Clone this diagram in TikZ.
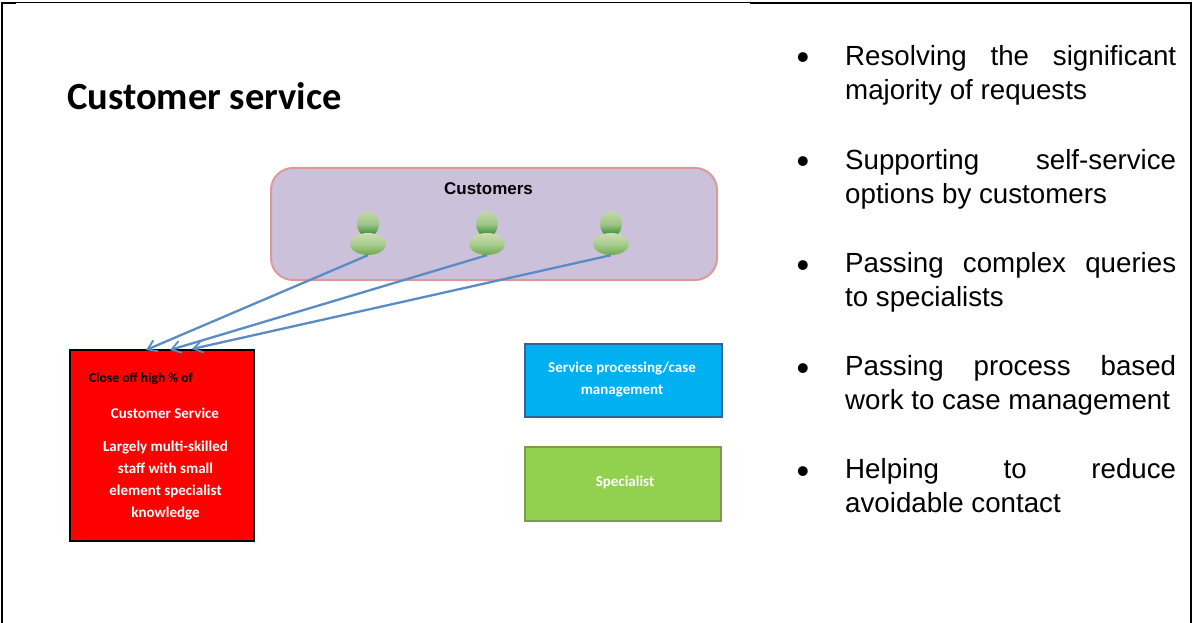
\documentclass[tikz,border=0pt]{standalone}
\usepackage{fontspec}
\setmainfont{Liberation Sans}
\newfontfamily\calfont{Carlito}
\definecolor{custfill}{HTML}{CCC1DA}
\definecolor{custline}{HTML}{DB9A98}
\definecolor{arrowblue}{HTML}{5B8BC4}
\definecolor{bluefill}{HTML}{00B0F0}
\definecolor{blueline}{HTML}{35619A}
\definecolor{greenfill}{HTML}{92D050}
\definecolor{greenline}{HTML}{7F9A48}
\definecolor{headtop}{HTML}{C3D9A8}
\definecolor{headmid}{HTML}{9FC688}
\definecolor{headbot}{HTML}{1F7F1F}
\definecolor{bodytop}{HTML}{CBDDB3}
\definecolor{bodymid}{HTML}{A9CC8E}
\definecolor{bodybot}{HTML}{6FAB4E}
\usetikzlibrary{arrows.meta,shapes.geometric}
\hyphenpenalty=10000
\exhyphenpenalty=10000
\tolerance=10000
\tikzset{
  x=1pt,y=-1pt,
  smalltext/.style={font=\calfont\fontsize{13.6}{16}\selectfont\bfseries,inner sep=0pt,align=center},
  smallwhite/.style={inner sep=0pt,align=center,text=white,font=\calfont\fontsize{15}{22}\selectfont\bfseries},
  personhead/.style={ellipse,minimum width=22pt,minimum height=26pt,inner sep=0pt,top color=headtop,bottom color=headbot,middle color=headmid},
  personbody/.style={ellipse,minimum width=36pt,minimum height=22pt,inner sep=0pt,top color=bodytop,bottom color=bodybot,middle color=bodymid},
  linkarrow/.style={draw=arrowblue,line width=2.3pt,-{Straight Barb[length=9pt,width=12pt,line width=1.8pt]}},
  itemtext/.style={font=\fontsize{27.7}{34}\selectfont,text width=331pt,inner sep=0pt,anchor=north west,align=justify},
  bulletmark/.style={font=\fontsize{36}{40}\selectfont,inner sep=0pt,anchor=base},
  flatbox/.style={line width=2pt,inner sep=0pt,anchor=north west},
}
\begin{document}
\begin{tikzpicture}
\useasboundingbox (0,0) rectangle (1192,623);
\fill[white] (0,0) rectangle (1192,623);
% frame
\draw[line width=2pt] (2,623) -- (2,3) -- (16,3);
\draw[line width=1pt] (16,2.5) -- (750,2.5);
\draw[line width=2pt] (750,3) -- (1190.5,3) -- (1190.5,623);
% title
\node[anchor=base west,inner sep=0pt,font=\calfont\fontsize{38.5}{40}\selectfont\bfseries] (title) at (67,109.5) {Customer service};
% customers
\node[flatbox,draw=custline,fill=custfill,rounded corners=22pt,minimum width=446pt,minimum height=112pt] (cust) at (270,167) {};
\node[anchor=base,inner sep=0pt,font=\fontsize{17}{20}\selectfont\bfseries] (custlabel) at (488.5,195) {Customers};
\node[personhead] (h1) at (368,224) {};
\node[personbody] (b1) at (368,244) {};
\node[personhead] (h2) at (487,224) {};
\node[personbody] (b2) at (487,244) {};
\node[personhead] (h3) at (611,224) {};
\node[personbody] (b3) at (611,244) {};
% boxes
\node[flatbox,draw=black,fill=red,minimum width=184pt,minimum height=191pt] (redbox) at (69,349) {};
\node[flatbox,draw=blueline,fill=bluefill,minimum width=197pt,minimum height=73pt] (bluebox) at (524,343) {};
\node[flatbox,draw=greenline,fill=greenfill,minimum width=196pt,minimum height=74pt] (greenbox) at (524,446) {};
% arrows
\coordinate (t1) at (146,350);
\coordinate (t2) at (170,350);
\coordinate (t3) at (192,349);
\draw[linkarrow] (b1.south) -- (t1);
\draw[linkarrow] (b2.south) -- (t2);
\draw[linkarrow] (b3.south) -- (t3);
% red text
\node[smalltext,anchor=base west,text=black] (r1) at (89,382) {Close off high \% of};
\node[smallwhite,anchor=base] (r2) at (165,418) {Customer Service};
\node[smallwhite,anchor=base] (r3) at (165.5,517) {Largely multi-skilled\\staff with small\\element specialist\\knowledge};
\node[smallwhite,anchor=base] (bl) at (622,394) {Service processing/case\\management};
\node[smallwhite,anchor=base] (gr) at (625,486) {Specialist};
% list
\node[bulletmark] (d1) at (803,70) {•};
\node[itemtext] (i1) at (845,45) {Resolving the significant majority of requests};
\node[bulletmark] (d2) at (803,174) {•};
\node[itemtext] (i2) at (845,149) {Supporting self-service options by customers};
\node[bulletmark] (d3) at (803,277) {•};
\node[itemtext] (i3) at (845,252) {Passing complex queries to specialists};
\node[bulletmark] (d4) at (803,380) {•};
\node[itemtext] (i4) at (845,355) {Passing process based work to case management};
\node[bulletmark] (d5) at (803,483) {•};
\node[itemtext] (i5) at (845,458) {Helping to reduce avoidable contact};
\end{tikzpicture}
\end{document}
